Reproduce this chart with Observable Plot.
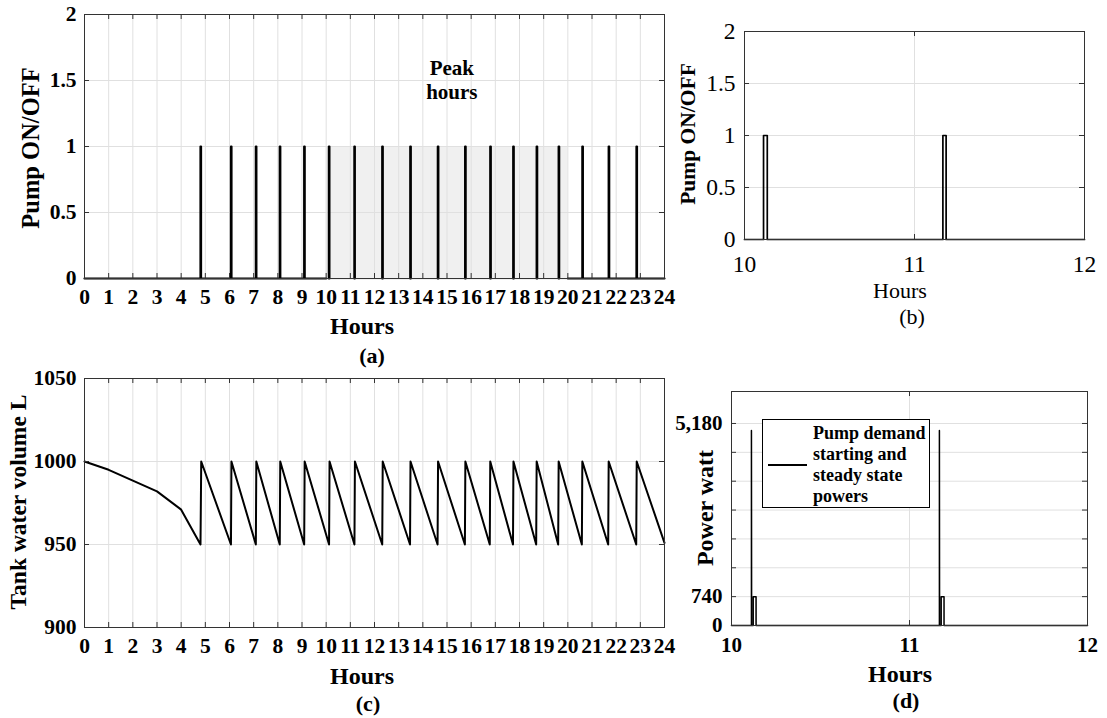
<!DOCTYPE html>
<html><head><meta charset="utf-8">
<script src="https://cdn.jsdelivr.net/npm/d3@7"></script>
<script src="https://cdn.jsdelivr.net/npm/@observablehq/plot@0.6"></script>
<style>
body{margin:0;background:#fff;}
#fig{position:relative;width:1107px;height:718px;overflow:hidden;background:#fff;font-family:"Liberation Serif","Times New Roman",serif;color:#000;}
.lab{position:absolute;transform:translate(-50%,-50%);white-space:nowrap;line-height:1;}
.ylab{position:absolute;transform:translate(-50%,-50%) rotate(-90deg);white-space:nowrap;line-height:1;}
</style></head><body><div id="fig"></div>
<script>
// ---------------- data ----------------
const hourTicks = [0,1,2,3,4,5,6,7,8,9,10,11,12,13,14,15,16,17,18,19,20,21,22,23,24];
const onOffTicks = [0,0.5,1,1.5,2];
const zoomHourTicks = [10,11,12];
const volumeTicks = [900,950,1000,1050];
const powerGrid = [0,740,1480,2220,2960,3700,4440,5180];
const powerLabels = [0,740,5180];

const peakStart = 10, peakEnd = 20;
const peakLabel = "Peak\nhours";

// pump switch-on / switch-off times (hours)
const pumpOnHours  = [4.80, 6.06, 7.09, 8.08, 9.09, 10.112, 11.167, 12.32, 13.48, 14.62, 15.75, 16.79, 17.74, 18.71, 19.62, 20.60, 21.69, 22.84];
const pumpOffHours = [4.822, 6.082, 7.112, 8.102, 9.112, 10.134, 11.186, 12.342, 13.502, 14.642, 15.772, 16.812, 17.762, 18.732, 19.642, 20.622, 21.712, 22.862];

// tank water volume (L)
const tankHours  = [0, 1, 2, 3, 4, 4.8, 4.83, 6.06, 6.08, 7.09, 7.11, 8.08, 8.10, 9.09, 9.11, 10.12, 10.14, 11.17, 11.19, 12.32, 12.34, 13.47, 13.49, 14.61, 14.63, 15.74, 15.76, 16.77, 16.79, 17.73, 17.75, 18.69, 18.71, 19.60, 19.62, 20.58, 20.60, 21.67, 21.69, 22.83, 22.85, 24];
const tankLitres = [1000, 995, 988.5, 982, 971, 950, 1000, 950, 1000, 950, 1000, 950, 1000, 950, 1000, 950, 1000, 950, 1000, 950, 1000, 950, 1000, 950, 1000, 950, 1000, 950, 1000, 950, 1000, 950, 1000, 950, 1000, 950, 1000, 950, 1000, 950, 1000, 951];

// pump power demand (W), 10–12 h
const powerHours = [10, 10.112, 10.112, 10.113, 10.122, 10.122, 10.138, 10.138, 11.168, 11.168, 11.169, 11.178, 11.178, 11.194, 11.194, 12];
const powerWatts = [0, 0, 5000, 0, 0, 740, 740, 0, 0, 5000, 0, 0, 740, 740, 0, 0];

// ---------------- build tables ----------------
const switchRows = [];
switchRows.push({h: 0, v: 0, s: "pre"});
pumpOnHours.forEach((t, i) => {
  const u = pumpOffHours[i];
  const s = t < peakStart ? "pre" : t < peakEnd ? "peak" + i : "post";
  if (s === "post" && !switchRows.some(r => r.s === "post")) switchRows.push({h: peakEnd, v: 0, s: "post"});
  switchRows.push({h: t, v: 0, s}, {h: t, v: 1, s}, {h: u, v: 1, s}, {h: u, v: 0, s});
  if (s === "pre" && !(pumpOnHours[i + 1] < peakStart)) switchRows.push({h: peakStart, v: 0, s: "pre"});
});
switchRows.push({h: 24, v: 0, s: "post"});

const zoomRows = [{h: 10, v: 0}];
pumpOnHours.forEach((t, i) => {
  const u = pumpOffHours[i];
  if (t >= 10 && u <= 12) zoomRows.push({h: t, v: 0}, {h: t, v: 1}, {h: u, v: 1}, {h: u, v: 0});
});
zoomRows.push({h: 12, v: 0});

const tankRows = tankHours.map((h, i) => ({h, v: tankLitres[i]}));
const powerRows = powerHours.map((h, i) => ({h, v: powerWatts[i]}));

// ---------------- drawing ----------------
const FONT = '"Liberation Serif","Times New Roman",serif';
const fig = document.getElementById("fig");
const frameColor = "#333333", gridColor = "#e0e0e0";

function panel(o) {
  const pw = o.width - o.ml - o.mr, ph = o.height - o.mt - o.mb;
  const svg = Plot.plot({
    width: o.width, height: o.height,
    marginTop: o.mt, marginRight: o.mr, marginBottom: o.mb, marginLeft: o.ml,
    x: {domain: o.xDomain}, y: {domain: o.yDomain},
    style: {fontFamily: FONT, fontSize: o.fontSize + "px", fontWeight: o.bold ? "bold" : "normal",
            background: "none", overflow: "visible", maxWidth: "none", color: "#000"},
    marks: [
      ...(o.under || []),
      Plot.ruleX(o.xGrid, {x: d => d, stroke: gridColor}),
      Plot.ruleY(o.yGrid, {y: d => d, stroke: gridColor}),
      ...o.marks,
      Plot.frame({stroke: frameColor}),
      Plot.ruleX(o.xTicks, {x: d => d, stroke: frameColor, insetBottom: ph - 5}),
      Plot.ruleX(o.xTicks, {x: d => d, stroke: frameColor, insetTop: ph - 5}),
      Plot.ruleY(o.yGrid, {y: d => d, stroke: frameColor, insetRight: pw - 5}),
      Plot.ruleY(o.yGrid, {y: d => d, stroke: frameColor, insetLeft: pw - 5}),
      Plot.axisX(o.xTicks, {tickSize: 0, tickPadding: o.xPad, tickFormat: d => String(d), label: null}),
      Plot.axisY(o.yTicks, {tickSize: 0, tickPadding: o.yPad, tickFormat: o.yFmt || (d => String(d)), label: null})
    ]
  });
  svg.style.position = "absolute";
  svg.style.left = o.left + "px";
  svg.style.top = o.top + "px";
  fig.appendChild(svg);
}

function label(text, x, y, size, bold, rotate) {
  const d = document.createElement("div");
  d.className = rotate ? "ylab" : "lab";
  d.textContent = text;
  d.style.left = x + "px";
  d.style.top = y + "px";
  d.style.fontSize = size + "px";
  d.style.fontWeight = bold ? "bold" : "normal";
  fig.appendChild(d);
}

// (a) pump ON/OFF over 24 h
panel({
  left: 0, top: 0, width: 680, height: 320, mt: 14, mr: 16, mb: 42, ml: 84,
  xDomain: [0, 24], yDomain: [0, 2], xTicks: hourTicks, xGrid: hourTicks, yTicks: onOffTicks, yGrid: onOffTicks,
  fontSize: 21.5, bold: true, xPad: 10, yPad: 8,
  under: [Plot.rect([peakLabel], {x1: peakStart, x2: peakEnd, y1: 0, y2: 1, fill: "#f0f0f0", insetBottom: -2})],
  marks: [
    Plot.line(switchRows, {x: "h", y: "v", z: "s", stroke: "#000", strokeWidth: 2.2}),
    Plot.text([peakLabel], {x: 15.2, y: 1.508, text: d => d, fontSize: 21, fontWeight: "bold", lineHeight: 1.15, fill: "#000"})
  ]
});

// (b) pump ON/OFF 10–12 h
panel({
  left: 680, top: 0, width: 427, height: 300, mt: 31, mr: 23, mb: 61, ml: 64,
  xDomain: [10, 12], yDomain: [0, 2], xTicks: zoomHourTicks, xGrid: [11], yTicks: onOffTicks, yGrid: onOffTicks,
  fontSize: 23.5, bold: false, xPad: 16, yPad: 9,
  marks: [Plot.line(zoomRows, {x: "h", y: "v", stroke: "#000", strokeWidth: 1.7})]
});

// (c) tank water volume
panel({
  left: 0, top: 360, width: 680, height: 310, mt: 18, mr: 16, mb: 43, ml: 84,
  xDomain: [0, 24], yDomain: [900, 1050], xTicks: hourTicks, xGrid: hourTicks, yTicks: volumeTicks, yGrid: volumeTicks,
  fontSize: 21.5, bold: true, xPad: 10, yPad: 8,
  marks: [Plot.line(tankRows, {x: "h", y: "v", stroke: "#000", strokeWidth: 2})]
});

// (d) power demand
panel({
  left: 680, top: 360, width: 427, height: 310, mt: 31, mr: 20, mb: 45, ml: 51,
  xDomain: [10, 12], yDomain: [0, 6000], xTicks: zoomHourTicks, xGrid: [11], yTicks: powerLabels, yGrid: powerGrid,
  fontSize: 21, bold: true, xPad: 12, yPad: 9, yFmt: d3.format(","),
  marks: [Plot.line(powerRows, {x: "h", y: "v", stroke: "#000", strokeWidth: 1.5})]
});

// axis titles & captions
label("Pump ON/OFF", 31, 148, 24.5, true, true);
label("Hours", 362, 326, 24, true);
label("(a)", 372, 356, 22, true);

label("Pump ON/OFF", 689, 134, 21.5, true, true);
label("Hours", 900, 291, 22, false);
label("(b)", 912, 317, 22, false);

label("Tank water volume L", 19, 502, 23.5, true, true);
label("Hours", 362, 676, 24, true);
label("(c)", 368, 704, 22, true);

label("Power watt", 705, 508, 24, true, true);
label("Hours", 900, 674, 24, true);
label("(d)", 906, 701, 22, true);

// legend in (d)
const legendText = ["Pump demand", "starting and", "steady state", "powers"];
const lg = document.createElement("div");
lg.style.cssText = "position:absolute;left:762px;top:419px;width:166px;height:87px;border:1px solid #000;background:#fff;";
const sw = document.createElement("div");
sw.style.cssText = "position:absolute;left:5px;top:44px;width:39px;height:0;border-top:2px solid #000;";
lg.appendChild(sw);
const tx = document.createElement("div");
tx.style.cssText = "position:absolute;left:50px;top:3px;font-weight:bold;font-size:18px;line-height:21px;white-space:nowrap;";
tx.innerHTML = legendText.join("<br>");
lg.appendChild(tx);
fig.appendChild(lg);
</script>
</body></html>
